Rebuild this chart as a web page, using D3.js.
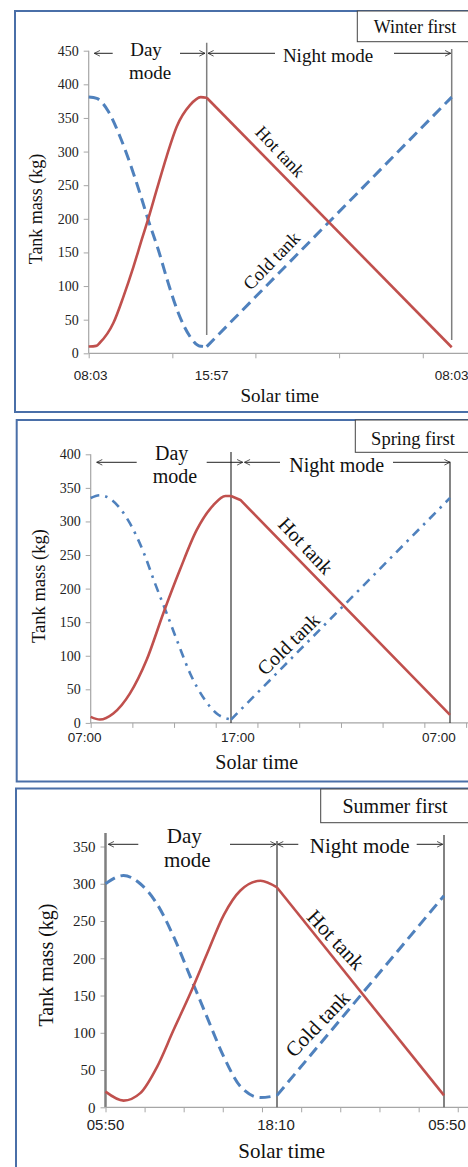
<!DOCTYPE html>
<html><head><meta charset="utf-8">
<script src="https://cdn.jsdelivr.net/npm/d3@7"></script>
<style>body{margin:0;background:#fff}svg{display:block}</style>
</head><body>
<svg id="c" width="468" height="1167"></svg>
<script>
// ---------- DATA (x in hours after the start of the day mode, y in kg) ----------
const winterTitle = "Winter first";
const winterDayEnd = 7.9;
const winterTimeLabels = ["08:03", "15:57", "08:03"];
const winterTimeHours = [0, 7.9, 24];
const winterXTicks = [0, 5.6, 11.1, 16.6, 22.1];
const winterYTicks = [0, 50, 100, 150, 200, 250, 300, 350, 400, 450];
const winterHot = [[0,10],[0.5,11],[0.76,16],[1.65,45],[2.32,84],[3.0,129],[3.55,169],[4.0,201],[4.55,243],[5.22,293],[5.89,337],[6.78,369],[7.5,381],[7.9,380],[24,9]];
const winterCold = [[0,381],[0.54,379],[1.31,360],[2.1,322],[2.76,283],[3.43,238],[3.99,198],[4.66,154],[5.33,104],[6.0,60],[6.78,25],[7.4,11],[7.9,10],[24,381]];

const springTitle = "Spring first";
const springDayEnd = 10;
const springTimeLabels = ["07:00", "17:00", "07:00"];
const springTimeHours = [0, 10, 24];
const springXTicks = [0, 2.97, 5.94, 8.91, 11.69, 14.36, 17.03, 19.69, 22.36, 25.03];
const springYTicks = [0, 50, 100, 150, 200, 250, 300, 350, 400];
const springHot = [[0,9],[0.66,5],[1.61,14],[2.8,44],[3.99,94],[5.17,163],[6.36,228],[7.55,287],[8.73,324],[9.6,338],[10,338],[10.6,332],[24,12]];
const springCold = [[0,335],[0.66,339],[1.37,334],[2.8,297],[3.75,255],[4.58,208],[5.42,163],[6.24,118],[7.08,74],[8.15,34],[8.98,14],[10,5],[24,335]];

const summerTitle = "Summer first";
const summerDayEnd = 12.33;
const summerTimeLabels = ["05:50", "18:10", "05:50"];
const summerTimeHours = [0, 12.33, 24];
const summerXTicks = [0, 2.81, 5.62, 8.43, 11.25, 14.02, 16.75, 19.49, 22.23, 24.96];
const summerYTicks = [0, 50, 100, 150, 200, 250, 300, 350];
const summerHot = [[0,21],[1.3,9],[2.5,19],[3.7,54],[4.9,104],[6.1,153],[7.3,206],[8.5,258],[9.7,291],[11.15,304],[12.33,295],[24,16]];
const summerCold = [[0,300],[1.3,311],[2.5,300],[3.7,273],[4.9,229],[6.1,175],[7.3,121],[8.5,68],[9.7,28],[11.15,13],[12.33,16],[24,284]];

const modeLabels = ["Day", "mode", "Night mode"];
const seriesLabels = ["Hot tank", "Cold tank"];
const yTitle = "Tank mass (kg)";
const xTitle = "Solar time";

// ---------- STYLE / LAYOUT ----------
const RED = "#C0504D", BLUE = "#4F81BD";
const serif = "'Liberation Serif','Times New Roman',serif";
const sans = "'Liberation Sans',Arial,sans-serif";
const svg = d3.select("#c");
svg.append("defs").append("marker").attr("id","arr").attr("viewBox","0 -5 10 10")
  .attr("refX",9).attr("refY",0).attr("markerWidth",7).attr("markerHeight",7)
  .attr("markerUnits","userSpaceOnUse").attr("orient","auto")
  .append("path").attr("d","M1,-4L9,0L1,4").attr("fill","none").attr("stroke","#222").attr("stroke-width",1.1);

const panels = [
  { title: winterTitle, dayEnd: winterDayEnd, tl: winterTimeLabels, th: winterTimeHours, xt: winterXTicks, yt: winterYTicks,
    hot: winterHot, cold: winterCold, coldDash: "11,6", coldW: 3,
    frame: [15, 11, 470, 401], tbox: [357.3, 11, 130, 30.7], tText: [415, 33], tFont: 18,
    x0: 88.7, xDay: 206.7, xEnd: 451.7, y0: 353.3, yTop: 50.7, yMax: 450, yAxisTop: 50.7,
    yFont: 14, xFont: 13.5, xLabY: 380, xLabDx: [2, 5, 0],
    yTitle: [36, 209, 18], xTitle: [279.7, 401.7, 19],
    vline: { color: "#7f7f7f", w: 1.5, day: [42.7, 335], end: [49, 340] },
    arrowY: 53.3, arrows: [[112.7, 94.3], [180, 205], [275, 208], [394, 450.7]],
    modeFont: 19, day: [146, 55.5], mode: [150, 79], night: [328, 61.7],
    hotLab: [280, 151.7, 46.7, 18], coldLab: [271.7, 261, -45.8, 18.5] },
  { title: springTitle, dayEnd: springDayEnd, tl: springTimeLabels, th: springTimeHours, xt: springXTicks, yt: springYTicks,
    hot: springHot, cold: springCold, coldDash: "9,6,2.5,6", coldW: 2.6,
    frame: [16.7, 420, 470, 361.5], tbox: [355.3, 420, 130, 32.3], tText: [413, 445], tFont: 18.5,
    x0: 90.7, xDay: 231, xEnd: 450, y0: 722.9, yTop: 454.3, yMax: 400, yAxisTop: 454.3,
    yFont: 14, xFont: 13.5, xLabY: 742, xLabDx: [-6, 7, -11],
    yTitle: [39, 586, 18.5], xTitle: [256.7, 769, 20],
    vline: { color: "#333", w: 1.2, day: [452, 722.9], end: [461.7, 722.9] },
    arrowY: 462.3, arrows: [[136.7, 96.7], [206.7, 242.7], [280, 244.5], [393, 450]],
    modeFont: 20, day: [171.7, 460], mode: [175, 483.3], night: [336.7, 471.7],
    hotLab: [305.8, 545.8, 46.7, 20], coldLab: [288.3, 644, -44.5, 20] },
  { title: summerTitle, dayEnd: summerDayEnd, tl: summerTimeLabels, th: summerTimeHours, xt: summerXTicks, yt: summerYTicks,
    hot: summerHot, cold: summerCold, coldDash: "11,6", coldW: 3,
    frame: [16, 788.5, 470, 400], tbox: [320.7, 789, 170, 33.7], tText: [395, 813], tFont: 20,
    x0: 105.5, xDay: 277, xEnd: 444, y0: 1107.3, yTop: 846.5, yMax: 350, yAxisTop: 833,
    yFont: 15, xFont: 15, xLabY: 1130, xLabDx: [0, -1, 3],
    yTitle: [46, 965, 20], xTitle: [281.7, 1158.3, 21],
    vline: { color: "#595959", w: 1.5, day: [841, 1107.3], end: [835, 1107.3] },
    arrowY: 844.3, arrows: [[138.3, 108.3], [230, 276], [298.3, 277.7], [416.7, 442.7]],
    modeFont: 21, day: [184.3, 843.3], mode: [187.3, 867.3], night: [359.7, 852.7],
    hotLab: [335.8, 940, 47, 21], coldLab: [317.5, 1024, -46.4, 21], thickY: true }
];

panels.forEach(p => {
  const g = svg.append("g");
  const x = d3.scaleLinear().domain([0, p.dayEnd, 24]).range([p.x0, p.xDay, p.xEnd]);
  const y = d3.scaleLinear().domain([0, p.yMax]).range([p.y0, p.yTop]);

  // frame
  g.append("rect").attr("x", p.frame[0]).attr("y", p.frame[1]).attr("width", p.frame[2]).attr("height", p.frame[3])
    .attr("fill", "none").attr("stroke", "#4a6fa8").attr("stroke-width", 2);

  // axes
  const ya = g.append("g").attr("transform", `translate(${p.x0},0)`)
    .call(d3.axisLeft(y).tickValues(p.yt).tickSize(5).tickPadding(5).tickSizeOuter(0));
  ya.select(".domain").remove();
  ya.selectAll(".tick line").attr("stroke", "#a6a6a6");
  ya.selectAll("text").attr("font-family", serif).attr("font-size", p.yFont).attr("fill", "#222");
  g.append("line").attr("x1", p.x0).attr("x2", p.x0).attr("y1", p.yAxisTop).attr("y2", p.y0)
    .attr("stroke", p.thickY ? "#7f7f7f" : "#a6a6a6").attr("stroke-width", p.thickY ? 2.5 : 1.2);

  const xa = g.append("g").attr("transform", `translate(0,${p.y0})`)
    .call(d3.axisBottom(x).tickValues(p.xt).tickSize(5).tickFormat(""));
  xa.select(".domain").remove();
  xa.selectAll(".tick line").attr("stroke", "#a6a6a6");
  g.append("line").attr("x1", p.x0).attr("x2", 470).attr("y1", p.y0).attr("y2", p.y0)
    .attr("stroke", "#a6a6a6").attr("stroke-width", 1.2);

  g.selectAll(".tl").data(p.tl).enter().append("text")
    .attr("x", (d, i) => x(p.th[i]) + p.xLabDx[i]).attr("y", p.xLabY)
    .attr("text-anchor", "middle").attr("font-family", sans).attr("font-size", p.xFont).attr("fill", "#222").text(d => d);

  // axis titles
  g.append("text").attr("transform", `translate(${p.yTitle[0]},${p.yTitle[1]}) rotate(-90)`)
    .attr("text-anchor", "middle").attr("dominant-baseline", "central")
    .attr("font-family", serif).attr("font-size", p.yTitle[2]).attr("fill", "#111").text(yTitle);
  g.append("text").attr("x", p.xTitle[0]).attr("y", p.xTitle[1]).attr("text-anchor", "middle")
    .attr("font-family", serif).attr("font-size", p.xTitle[2]).attr("fill", "#111").text(xTitle);

  // vertical mode lines
  g.append("line").attr("x1", x(p.dayEnd)).attr("x2", x(p.dayEnd)).attr("y1", p.vline.day[0]).attr("y2", p.vline.day[1])
    .attr("stroke", p.vline.color).attr("stroke-width", p.vline.w);
  g.append("line").attr("x1", x(24)).attr("x2", x(24)).attr("y1", p.vline.end[0]).attr("y2", p.vline.end[1])
    .attr("stroke", p.vline.color).attr("stroke-width", p.vline.w);

  // series
  const line = d3.line().x(d => x(d[0])).y(d => y(d[1]));
  function draw(data, color, dash, w) {
    const day = data.filter(d => d[0] <= p.dayEnd);
    const night = data.filter(d => d[0] >= p.dayEnd);
    [[day, d3.curveMonotoneX], [night, d3.curveLinear]].forEach(([pts, c]) => {
      g.append("path").attr("d", line.curve(c)(pts)).attr("fill", "none").attr("stroke", color)
        .attr("stroke-width", w).attr("stroke-dasharray", dash).attr("stroke-linejoin", "round");
    });
  }
  draw(p.cold, BLUE, p.coldDash, p.coldW);
  draw(p.hot, RED, null, 2.6);

  // mode arrows
  p.arrows.forEach(a => {
    g.append("line").attr("x1", a[0]).attr("x2", a[1]).attr("y1", p.arrowY).attr("y2", p.arrowY)
      .attr("stroke", "#222").attr("stroke-width", 1).attr("marker-end", "url(#arr)");
  });
  const mt = (pos, t) => g.append("text").attr("x", pos[0]).attr("y", pos[1]).attr("text-anchor", "middle")
    .attr("font-family", serif).attr("font-size", p.modeFont).attr("fill", "#111").text(t);
  mt(p.day, modeLabels[0]); mt(p.mode, modeLabels[1]); mt(p.night, modeLabels[2]);

  // series labels
  [[p.hotLab, seriesLabels[0]], [p.coldLab, seriesLabels[1]]].forEach(([l, t]) => {
    g.append("text").attr("transform", `translate(${l[0]},${l[1]}) rotate(${l[2]})`)
      .attr("text-anchor", "middle").attr("dominant-baseline", "central")
      .attr("font-family", serif).attr("font-size", l[3]).attr("fill", "#111").text(t);
  });

  // title box
  g.append("rect").attr("x", p.tbox[0]).attr("y", p.tbox[1]).attr("width", p.tbox[2]).attr("height", p.tbox[3])
    .attr("fill", "#fff").attr("stroke", "#444").attr("stroke-width", 1);
  g.append("text").attr("x", p.tText[0]).attr("y", p.tText[1]).attr("text-anchor", "middle")
    .attr("font-family", serif).attr("font-size", p.tFont).attr("fill", "#111").text(p.title);
});
</script>
</body></html>
